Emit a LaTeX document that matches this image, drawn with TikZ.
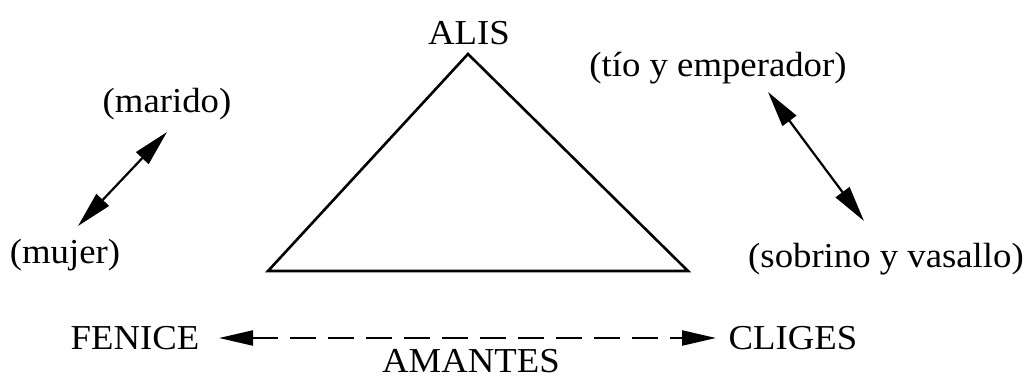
\documentclass[tikz,border=0pt]{standalone}
\usepackage{fontspec}
\setmainfont[FakeStretch=1.05]{Liberation Serif}
\usetikzlibrary{arrows.meta}
\begin{document}
\begin{tikzpicture}[x=1pt,y=-1pt,
  lbl/.style={font=\fontsize{35}{40}\selectfont, inner sep=0pt},
  tri/.style={line width=2.6pt, line join=miter},
  dbl/.style={line width=2.2pt, {Triangle[length=36pt,width=17pt]}-{Triangle[length=36pt,width=17pt]}},
  dsh/.style={line width=2.2pt, dash pattern=on 26pt off 12pt, {Triangle[length=34pt,width=15pt]}-{Triangle[length=34pt,width=15pt]}}]
\useasboundingbox (0,0) rectangle (1034,378);
\node[lbl] (alis) at (469,33) {ALIS};
\node[lbl] (fenice) at (135,338) {FENICE};
\node[lbl] (cliges) at (793,338) {CLIGES};
\node[lbl] (amantes) at (471,361) {AMANTES};
\node[lbl] (marido) at (167,104) {(marido)};
\node[lbl] (mujer) at (65,255) {(mujer)};
\node[lbl] (tio) at (718,68) {(tío y emperador)};
\node[lbl] (sobrino) at (886,259) {(sobrino y vasallo)};
\coordinate (A) at (468,54);
\coordinate (B) at (268,271);
\coordinate (C) at (688,271);
\draw[tri] (A) -- (B) -- (C) -- cycle;
\coordinate (m1) at (167,132);
\coordinate (m2) at (78,226);
\draw[dbl] (m2) -- (m1);
\coordinate (t1) at (768,92);
\coordinate (t2) at (864,221);
\draw[dbl] (t1) -- (t2);
\coordinate (f1) at (219,338);
\coordinate (c1) at (716,338);
\draw[dsh] (f1) -- (c1);
\end{tikzpicture}
\end{document}
